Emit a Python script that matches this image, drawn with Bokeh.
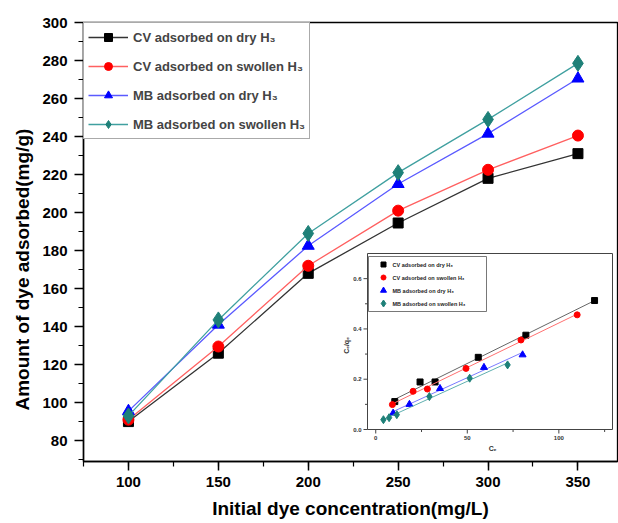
import numpy as np
from bokeh.plotting import figure
from bokeh.models import Range1d, SingleIntervalTicker, Legend, LegendItem, Title
from bokeh.core.properties import value
from bokeh.embed import file_html
from bokeh.resources import INLINE

# ---- main data: dye uptake vs initial concentration ----
conc = [100, 150, 200, 250, 300, 350]
cv_dry = [90, 126, 168, 194.5, 218, 231]
cv_swollen = [91, 129.5, 172, 201, 222.5, 240.5]
mb_dry = [95.5, 141, 182.5, 215, 241.5, 270.5]
mb_swollen = [93, 143.5, 189, 221, 249, 278.5]

labels = ["CV adsorbed on dry H\u2083", "CV adsorbed on swollen H\u2083",
          "MB adsorbed on dry H\u2083", "MB adsorbed on swollen H\u2083"]
colors = ["black", "#ff0000", "#0000ff", "#1e8078"]
line_colors = ["#333333", "#ff6060", "#5a5aff", "#40a0a0"]
markers = ["square", "circle", "triangle", "diamond"]
sizes = [10, 11, 12, 16]

# ---- inset data: Langmuir linear plot Ce/qe vs Ce ----
cv_dry_ce = [10.4, 24.2, 32.4, 56.0, 82.0, 119.5]
cv_dry_r = [0.111, 0.189, 0.189, 0.287, 0.375, 0.513]
cv_sw_ce = [9.1, 20.4, 28.2, 49.3, 79.3, 110.0]
cv_sw_r = [0.099, 0.152, 0.161, 0.243, 0.356, 0.456]
mb_dry_ce = [9.5, 18.4, 35.1, 59.1, 80.2]
mb_dry_r = [0.065, 0.100, 0.163, 0.247, 0.297]
mb_sw_ce = [4.2, 7.3, 11.5, 29.3, 51.3, 72.0]
mb_sw_r = [0.039, 0.047, 0.059, 0.131, 0.204, 0.257]

inset_xticks = [0, 50, 100]
inset_xminor = [25, 75, 125]
inset_yticks = [0.0, 0.2, 0.4, 0.6]
inset_yminor = [0.1, 0.3, 0.5]

FONT = "Liberation Sans"

p = figure(width=618, height=523, x_range=Range1d(75, 372), y_range=Range1d(69, 300),
           output_backend="svg", toolbar_location=None,
           min_border_left=83, min_border_right=1, min_border_top=22, min_border_bottom=62)
p.background_fill_color = "white"
p.border_fill_color = "white"
p.grid.visible = False
p.outline_line_color = "black"
p.outline_line_width = 1.3

for ax, interval in ((p.xaxis[0], 50), (p.yaxis[0], 20)):
    ax.ticker = SingleIntervalTicker(interval=interval, num_minor_ticks=2)
    ax.axis_line_width = 1.5
    ax.major_tick_line_width = 1.5
    ax.minor_tick_line_width = 1.2
    ax.major_tick_in = 0
    ax.minor_tick_in = 0
    ax.major_tick_out = 9
    ax.minor_tick_out = 5
    ax.major_label_text_font = FONT
    ax.major_label_text_font_style = "bold"
    ax.major_label_text_font_size = "15px"
    ax.major_label_text_color = "black"
    ax.axis_label_text_font = FONT
    ax.axis_label_text_font_style = "bold"
    ax.axis_label_text_font_size = "19px"
    ax.axis_label_text_color = "black"

p.xaxis.axis_label = "Initial dye concentration(mg/L)"
p.xaxis.major_label_standoff = 6
p.xaxis.axis_label_standoff = 8
p.yaxis.major_label_standoff = 7

# y-axis title as a side title, anchored from the bottom of the frame
p.add_layout(Title(text="Amount of dye adsorbed(mg/g)", align="left", offset=51,
                   text_font=FONT, text_font_style="bold", text_font_size="19px",
                   text_color="black", standoff=13), "left")

series = [cv_dry, cv_swollen, mb_dry, mb_swollen]
items = []
for ys, lab, c, lc, m, s in zip(series, labels, colors, line_colors, markers, sizes):
    ln = p.line(conc, ys, line_color=lc, line_width=1.3)
    sc = p.scatter(conc, ys, marker=m, size=s, fill_color=c, line_color=c)
    items.append(LegendItem(label=lab, renderers=[ln, sc]))

legend = Legend(items=items, location="top_left", margin=0)
legend.label_text_font = FONT
legend.label_text_font_style = "bold"
legend.label_text_font_size = "13px"
legend.glyph_width = 40
legend.glyph_height = 20
legend.label_height = 20
legend.spacing = 9
legend.padding = 4
legend.label_standoff = 5
legend.border_line_color = "#555555"
legend.border_line_width = 1.2
legend.background_fill_alpha = 1.0
p.add_layout(legend)

# ---- inset placed inside the main frame through its own ranges ----
FL, FR, FT, FB = 83, 617, 22, 461          # main frame, canvas pixels
IL, IR, IT, IB = 367, 612, 253, 429        # inset frame, canvas pixels
IX0, IX1, IY0, IY1 = -4.5, 129.3, 0.0, 0.7  # inset data extents
sx = (IX1 - IX0) / (IR - IL)
sy = (IY1 - IY0) / (IB - IT)


def ix(px):
    return IX0 + (px - IL) * sx


def iy(py):
    return IY0 + (IB - py) * sy


p.extra_x_ranges = {"ix": Range1d(ix(FL), ix(FR))}
p.extra_y_ranges = {"iy": Range1d(iy(FB), iy(FT))}
R = dict(x_range_name="ix", y_range_name="iy")

p.quad(left=[IX0], right=[IX1], bottom=[IY0], top=[IY1], fill_color="white",
       line_color="#444444", line_width=1, **R)

# inset ticks
p.segment(x0=inset_xticks, x1=inset_xticks, y0=[IY0] * 3, y1=[IY0 - 4 * sy] * 3,
          line_color="#444444", line_width=1, **R)
p.segment(x0=inset_xminor, x1=inset_xminor, y0=[IY0] * 3, y1=[IY0 - 2.5 * sy] * 3,
          line_color="#444444", line_width=1, **R)
p.segment(x0=[IX0] * 4, x1=[IX0 - 4 * sx] * 4, y0=inset_yticks, y1=inset_yticks,
          line_color="#444444", line_width=1, **R)
p.segment(x0=[IX0] * 3, x1=[IX0 - 2.5 * sx] * 3, y0=inset_yminor, y1=inset_yminor,
          line_color="#444444", line_width=1, **R)

p.text(x=inset_xticks, y=[IY0 - 6 * sy] * 3, text=[str(t) for t in inset_xticks],
       text_font=value(FONT), text_font_style="bold", text_font_size="6px",
       text_align="center", text_baseline="top", text_color="#333333", **R)
p.text(x=[IX0 - 6 * sx] * 4, y=inset_yticks, text=["%.1f" % t for t in inset_yticks],
       text_font=value(FONT), text_font_style="bold", text_font_size="6px",
       text_align="right", text_baseline="middle", text_color="#333333", **R)
p.text(x=[ix(492)], y=[iy(448)], text=["C\u2091"],
       text_font=value(FONT), text_font_style="bold", text_font_size="7px",
       text_align="center", text_baseline="middle", text_color="#333333", **R)
p.text(x=[ix(346)], y=[iy(345)], text=["C\u2091/q\u2091"], angle=np.pi / 2,
       text_font=value(FONT), text_font_style="bold", text_font_size="7px",
       text_align="center", text_baseline="middle", text_color="#333333", **R)

inset_sets = [(cv_dry_ce, cv_dry_r), (cv_sw_ce, cv_sw_r),
              (mb_dry_ce, mb_dry_r), (mb_sw_ce, mb_sw_r)]
fit_colors = ["#666666", "#ff7070", "#7a7aff", "#60b0b0"]
inset_sizes = [6, 6, 7, 8]
for (xs, ys), c, fc, m, s in zip(inset_sets, colors, fit_colors, markers, inset_sizes):
    k, b = np.polyfit(xs, ys, 1)
    xl = [min(xs), max(xs)]
    p.line(xl, [k * v + b for v in xl], line_color=fc, line_width=1, **R)
    p.scatter(xs, ys, marker=m, size=s, fill_color=c, line_color=c, **R)

# inset legend
p.quad(left=[ix(368)], right=[ix(486)], bottom=[iy(311)], top=[iy(256)],
       fill_color="white", line_color="#555555", line_width=0.8, **R)
leg_rows = [264, 277, 290, 303]
for lab, c, m, s, py in zip(labels, colors, markers, inset_sizes, leg_rows):
    p.scatter([ix(383)], [iy(py)], marker=m, size=s - 1, fill_color=c, line_color=c, **R)
    p.text(x=[ix(392)], y=[iy(py)], text=[lab], text_font=value(FONT),
           text_font_style="bold", text_font_size="5.5px", text_align="left",
           text_baseline="middle", text_color="#222222", **R)

open("out.html", "w").write(file_html(p, INLINE))
